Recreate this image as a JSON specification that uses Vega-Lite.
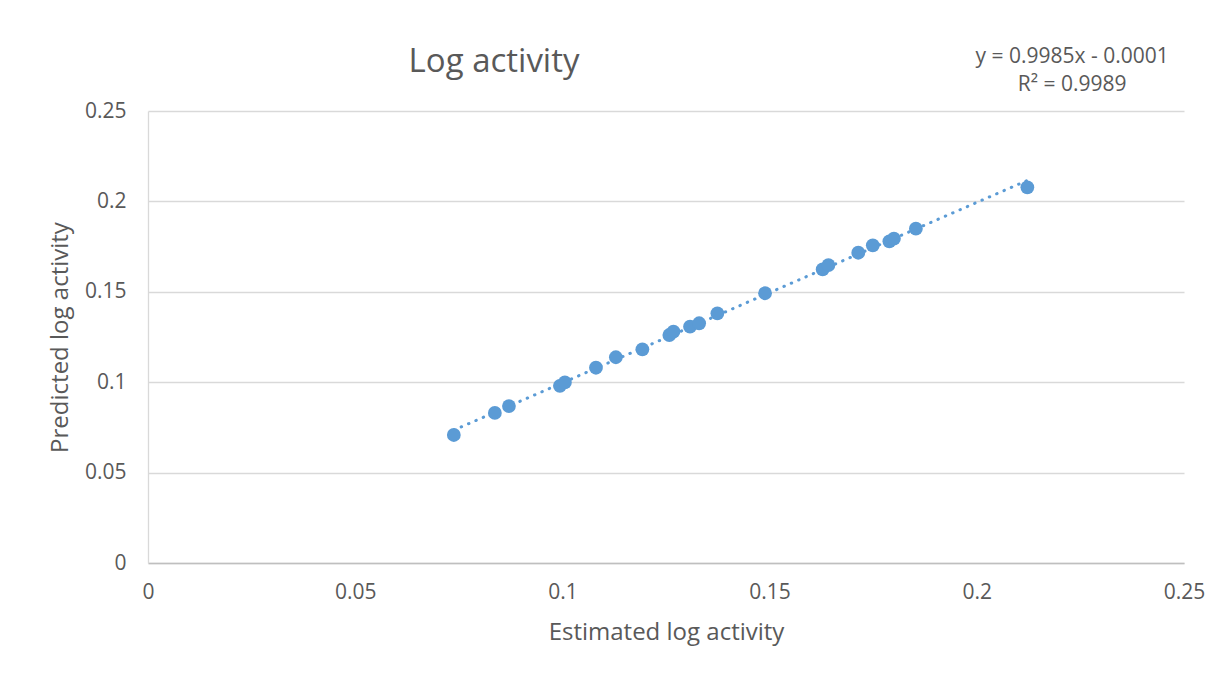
{
  "$schema": "https://vega.github.io/schema/vega-lite/v6.json",
  "width": 1036,
  "height": 452,
  "autosize": {"type": "none"},
  "padding": {"left": 148, "top": 111, "right": 38, "bottom": 112},
  "background": "white",
  "config": {
    "view": {"stroke": null},
    "axis": {
      "labelFont": "Open Sans",
      "titleFont": "Open Sans",
      "labelFontSize": 21,
      "titleFontSize": 24,
      "labelColor": "#595959",
      "titleColor": "#595959",
      "titleFontWeight": "normal",
      "ticks": false,
      "labelFlush": false,
      "gridColor": "#d9d9d9",
      "gridWidth": 1.3
    }
  },
  "datasets": {
    "points": [
      {"est": 0.0738, "pred": 0.0708},
      {"est": 0.0837, "pred": 0.0830},
      {"est": 0.0871, "pred": 0.0868},
      {"est": 0.0994, "pred": 0.0980},
      {"est": 0.1006, "pred": 0.0999},
      {"est": 0.1081, "pred": 0.1080},
      {"est": 0.1129, "pred": 0.1138},
      {"est": 0.1193, "pred": 0.1182},
      {"est": 0.1258, "pred": 0.1261},
      {"est": 0.1268, "pred": 0.1280},
      {"est": 0.1308, "pred": 0.1307},
      {"est": 0.1330, "pred": 0.1326},
      {"est": 0.1374, "pred": 0.1381},
      {"est": 0.1489, "pred": 0.1492},
      {"est": 0.1628, "pred": 0.1624},
      {"est": 0.1642, "pred": 0.1648},
      {"est": 0.1714, "pred": 0.1716},
      {"est": 0.1749, "pred": 0.1757},
      {"est": 0.1789, "pred": 0.1779},
      {"est": 0.1800, "pred": 0.1794},
      {"est": 0.1853, "pred": 0.1849},
      {"est": 0.2122, "pred": 0.2078}
    ],
    "labels": [
      {"label": "Log activity", "lx": 0.0835, "ly": 0.2771, "size": 33},
      {"label": "y = 0.9985x - 0.0001", "lx": 0.223, "ly": 0.2799, "size": 21},
      {"label": "R² = 0.9989", "lx": 0.223, "ly": 0.2644, "size": 21}
    ]
  },
  "layer": [
    {
      "data": {"name": "points"},
      "transform": [{"regression": "pred", "on": "est"}],
      "mark": {
        "type": "line",
        "color": "#5b9bd5",
        "strokeWidth": 3,
        "strokeCap": "round",
        "strokeDash": [0.5, 7.5]
      },
      "encoding": {
        "x": {"field": "est", "type": "quantitative"},
        "y": {"field": "pred", "type": "quantitative"}
      }
    },
    {
      "data": {"name": "points"},
      "mark": {"type": "circle", "size": 190, "color": "#5b9bd5", "opacity": 1},
      "encoding": {
        "x": {
          "field": "est",
          "type": "quantitative",
          "scale": {"domain": [0, 0.25], "nice": false, "zero": true},
          "axis": {
            "title": "Estimated log activity",
            "values": [0, 0.05, 0.1, 0.15, 0.2, 0.25],
            "grid": false,
            "domain": true,
            "domainColor": "#bfbfbf",
            "domainWidth": 1.3,
            "labelPadding": 18,
            "titlePadding": 18,
            "labelExpr": "datum.value == 0 ? '0' : format(datum.value, '.2~f')"
          }
        },
        "y": {
          "field": "pred",
          "type": "quantitative",
          "scale": {"domain": [0, 0.25], "nice": false, "zero": true},
          "axis": {
            "title": "Predicted log activity",
            "values": [0, 0.05, 0.1, 0.15, 0.2, 0.25],
            "grid": true,
            "domain": true,
            "domainColor": "#d9d9d9",
            "domainWidth": 1.3,
            "labelPadding": 22,
            "titlePadding": 12,
            "labelExpr": "datum.value == 0 ? '0' : format(datum.value, '.2~f')"
          }
        }
      }
    },
    {
      "data": {"name": "labels"},
      "mark": {
        "type": "text",
        "align": "center",
        "baseline": "middle",
        "font": "Open Sans",
        "color": "#595959",
        "clip": false
      },
      "encoding": {
        "x": {"field": "lx", "type": "quantitative"},
        "y": {"field": "ly", "type": "quantitative"},
        "text": {"field": "label"},
        "size": {"field": "size", "type": "quantitative", "scale": null}
      }
    }
  ]
}
